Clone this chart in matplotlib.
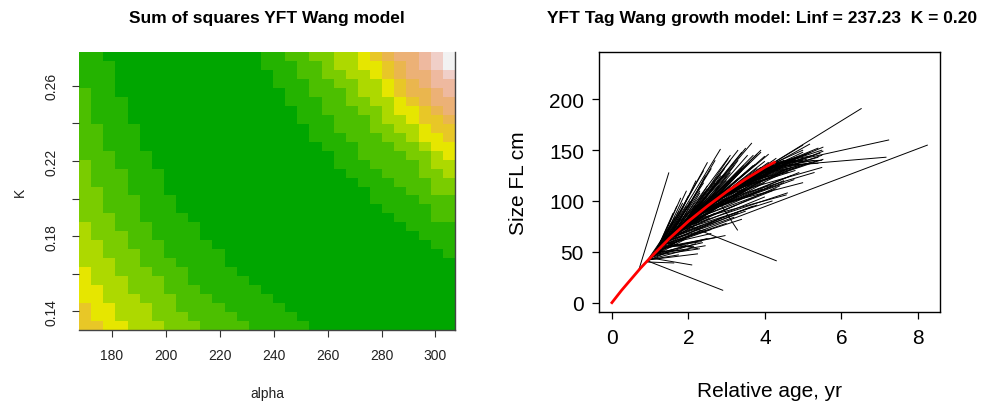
import numpy as np
import matplotlib
matplotlib.use("Agg")
import matplotlib.pyplot as plt
from matplotlib.colors import ListedColormap

plt.rcParams['font.family'] = ['Liberation Sans', 'DejaVu Sans']

# ---- sum of squares surface: alpha (cols) x K (rows) ----
alpha = np.arange(170, 305.1, 4.5)
k_vals = np.linspace(0.1325, 0.2755, 31)

# colour class (0-11, hex) of each cell, first string = highest K
ss_class = [
    "11" "0000000000000" "11223344567889ab",
    "111" "000000000000" "11122344556789ab",
    "111" "0000000000000" "11223344567889a",
    "111" "0000000000000" "111223344567899",
    "211" "00000000000000" "11222344567789",
    "2111" "0000000000000" "11122334456788",
    "2111" "00000000000000" "1122233455678",
    "2111" "00000000000000" "1112223445667",
    "22111" "00000000000000" "112223344566",
    "22111" "00000000000000" "111222334556",
    "22111" "000000000000000" "11122233455",
    "222111" "000000000000000" "1122223345",
    "322111" "000000000000000" "1112222344",
    "3222111" "000000000000000" "111222334",
    "3222111" "0000000000000000" "11122233",
    "3322111" "00000000000000000" "1112233",
    "33222111" "0000000000000000" "1111222",
    "33222111" "00000000000000000" "111122",
    "333221111" "00000000000000000" "11122",
    "4332221111" "00000000000000000" "1111",
    "4333221111" "000000000000000000" "111",
    "44332221111" "000000000000000000" "11",
    "443332211111" "000000000000000000" "1",
    "444332221111" "0000000000000000000",
    "5443332221111" "000000000000000000",
    "54443332211111" "00000000000000000",
    "554433322211111" "0000000000000000",
    "5544433322211111" "000000000000000",
    "65544433222211111" "00000000000000",
    "655444333222211111" "0000000000000",
    "6655444333222211111" "000000000000",
]
terrain12 = ["#00A600", "#24B300", "#4CBF00", "#7ACC00", "#ADD900", "#E6E600",
             "#E8C727", "#EAB64E", "#ECB176", "#EEB99F", "#F0CFC8", "#F2F2F2"]

# ---- tag data: release (age, length) -> recapture (age, length) ----
tags = [
    (0.71, 33, 1.49, 128), (0.93, 41, 2.91, 12), (0.90, 40, 1.63, 39),
    (0.95, 42, 2.05, 53), (0.95, 42, 2.25, 48), (1.00, 44, 2.10, 37),
    (1.00, 44, 1.70, 60), (1.00, 44, 1.45, 66), (1.05, 46, 1.80, 75),
    (1.05, 46, 2.00, 57), (1.10, 48, 1.55, 78), (1.10, 48, 2.38, 59),
    (1.10, 48, 1.95, 88), (1.15, 50, 1.70, 95), (1.15, 50, 2.30, 70),
    (1.20, 52, 1.80, 103), (1.20, 52, 2.97, 66), (1.20, 52, 2.10, 80),
    (1.25, 54, 1.95, 110), (1.25, 54, 2.60, 72), (1.30, 56, 8.26, 155),
    (1.30, 56, 2.84, 151), (1.30, 56, 2.20, 92), (1.35, 57, 2.40, 118),
    (1.35, 57, 3.00, 78), (1.40, 59, 2.60, 132), (1.40, 59, 2.20, 85),
    (1.40, 59, 3.30, 88), (1.45, 61, 2.50, 112), (1.45, 61, 2.90, 97),
    (1.50, 63, 2.70, 140), (1.50, 63, 2.40, 96), (1.50, 63, 3.50, 90),
    (1.55, 64, 3.00, 128), (1.55, 64, 2.80, 95), (1.60, 66, 3.66, 157),
    (1.60, 66, 2.50, 103), (1.60, 66, 3.80, 96), (1.65, 68, 3.20, 135),
    (1.65, 68, 3.10, 104), (1.70, 70, 3.40, 148), (1.70, 70, 2.60, 98),
    (1.70, 70, 4.20, 100), (1.75, 71, 3.00, 120), (1.75, 71, 3.60, 112),
    (1.80, 73, 3.90, 150), (1.80, 73, 2.90, 103), (1.80, 73, 4.60, 108),
    (1.85, 75, 3.30, 128), (1.90, 77, 4.31, 41), (1.90, 77, 3.70, 145),
    (1.90, 77, 3.50, 112), (1.95, 78, 2.90, 110), (2.00, 80, 3.80, 146),
    (2.00, 80, 4.57, 106), (2.00, 80, 3.20, 108), (2.05, 81, 3.40, 132),
    (2.10, 83, 4.10, 146), (2.10, 83, 3.60, 115), (2.15, 85, 3.00, 112),
    (2.20, 86, 4.77, 121), (2.20, 86, 3.70, 135), (2.25, 88, 3.30, 105),
    (2.30, 89, 4.00, 139), (2.30, 89, 3.90, 118), (2.35, 90, 3.10, 118),
    (2.40, 92, 4.20, 130), (2.40, 92, 3.50, 128), (2.45, 93, 5.00, 118),
    (2.50, 95, 4.30, 142), (2.50, 95, 3.90, 124), (2.55, 96, 3.40, 114),
    (2.60, 98, 5.30, 128), (2.60, 98, 4.10, 138), (2.65, 100, 3.80, 120),
    (2.70, 101, 4.40, 133), (2.75, 102, 3.29, 71), (2.80, 104, 5.50, 133),
    (2.80, 104, 4.00, 125), (2.85, 105, 4.60, 138), (2.90, 106, 3.70, 126),
    (2.95, 108, 4.80, 130), (3.00, 109, 5.53, 141), (3.00, 109, 4.20, 128),
    (3.05, 110, 4.50, 140), (3.10, 112, 4.90, 135), (3.15, 113, 4.10, 130),
    (3.20, 114, 5.53, 149), (3.25, 115, 4.70, 133), (3.30, 117, 5.00, 142),
    (3.35, 118, 4.40, 131), (3.40, 119, 5.53, 153), (3.45, 120, 5.10, 137),
    (3.50, 121, 4.80, 140), (3.55, 122, 5.18, 156), (3.60, 124, 5.40, 143),
    (3.65, 125, 4.60, 132), (3.70, 126, 5.20, 148), (3.75, 127, 4.95, 136),
    (3.80, 128, 5.45, 147), (3.85, 129, 4.90, 144), (3.90, 130, 5.30, 140),
    (3.95, 131, 5.50, 150), (4.00, 133, 7.18, 143), (4.05, 134, 5.10, 146),
    (4.10, 134, 7.25, 160), (4.15, 136, 5.00, 140), (4.20, 137, 6.53, 191),
    (4.20, 137, 5.50, 140), (4.25, 138, 5.00, 155), (1.05, 46, 2.30, 53),
    (1.15, 50, 2.00, 52), (1.25, 54, 2.70, 64), (1.35, 57, 3.40, 82),
    (1.45, 61, 3.20, 84), (1.55, 64, 3.70, 95), (1.65, 68, 4.00, 104),
    (1.75, 71, 4.40, 115), (1.85, 75, 4.20, 110), (1.95, 78, 4.50, 120),
    (2.05, 81, 4.30, 112), (2.15, 85, 4.70, 125), (2.25, 88, 4.50, 118),
    (2.35, 90, 4.90, 128), (1.20, 52, 2.40, 130), (1.30, 56, 2.50, 138),
    (1.40, 59, 3.10, 145), (1.50, 63, 3.30, 150), (1.60, 66, 2.90, 125),
    (1.70, 70, 3.10, 140), (1.80, 73, 3.50, 152), (1.90, 77, 2.80, 115),
    (2.00, 80, 3.00, 125), (2.20, 86, 3.90, 148), (2.40, 92, 3.60, 138),
    (2.60, 98, 4.00, 144), (1.10, 48, 1.60, 70), (1.00, 44, 1.90, 62),
    (0.95, 42, 1.40, 55), (1.20, 52, 1.60, 80),
    (0.90, 40, 1.30, 62), (0.92, 41, 1.60, 52), (0.95, 42, 1.75, 47),
    (0.98, 43, 1.55, 58), (1.00, 44, 2.20, 58), (1.02, 45, 1.50, 72),
    (1.05, 46, 1.65, 84), (1.08, 47, 2.45, 56), (1.10, 48, 1.80, 62),
    (1.12, 49, 2.15, 68), (1.15, 50, 1.60, 88), (1.18, 51, 1.90, 75),
    (1.20, 52, 2.50, 63), (1.22, 53, 2.05, 98), (1.25, 54, 1.75, 90),
    (1.28, 55, 2.30, 80), (1.30, 56, 1.85, 98), (1.32, 56, 2.90, 84),
    (1.35, 57, 2.00, 105), (1.38, 58, 2.45, 90), (1.40, 59, 1.95, 95),
    (1.42, 60, 2.75, 107), (1.45, 61, 2.20, 120), (1.48, 62, 3.05, 102),
    (1.50, 63, 2.05, 100), (1.52, 63, 2.55, 83), (1.55, 64, 2.30, 110),
    (1.58, 65, 3.35, 118), (1.60, 66, 2.20, 95), (1.62, 67, 3.90, 120),
    (1.65, 68, 2.45, 125), (1.68, 69, 2.70, 88), (1.70, 70, 2.30, 108),
    (1.72, 70, 3.75, 136), (1.75, 71, 2.55, 102), (1.78, 72, 2.95, 132),
    (1.80, 73, 3.25, 96), (1.82, 74, 2.50, 115), (1.85, 75, 3.05, 142),
    (1.88, 76, 4.00, 118), (1.90, 77, 2.60, 105), (1.92, 77, 3.45, 135),
    (1.95, 78, 3.80, 128), (1.98, 79, 2.70, 118), (2.00, 80, 4.10, 126),
    (2.05, 81, 2.85, 125), (2.10, 83, 3.30, 122), (2.12, 84, 3.95, 112),
    (2.15, 85, 3.55, 145), (2.18, 86, 2.95, 100), (2.20, 86, 4.20, 115),
    (2.25, 88, 3.10, 128), (2.28, 88, 4.40, 126), (2.30, 89, 3.30, 140),
    (2.35, 90, 4.60, 132), (2.38, 91, 3.65, 122), (2.42, 92, 3.20, 112),
    (2.45, 93, 4.30, 135), (2.50, 95, 3.50, 118), (2.55, 96, 4.75, 140),
    (2.60, 98, 3.40, 130), (2.65, 100, 4.50, 128), (2.70, 101, 3.60, 122),
    (2.75, 102, 4.85, 142), (2.80, 104, 3.90, 133), (2.90, 106, 5.20, 138),
    (3.00, 109, 3.80, 132), (3.10, 112, 5.40, 140), (3.20, 114, 4.30, 135),
    (3.30, 117, 5.50, 145), (3.40, 119, 4.60, 128), (3.50, 121, 5.00, 148),
    (3.60, 124, 4.50, 138), (3.70, 126, 5.40, 152), (3.80, 128, 4.70, 140),
    (3.90, 130, 5.10, 141), (4.00, 133, 5.00, 150), (4.10, 134, 5.40, 137),
    (4.20, 137, 5.30, 145), (1.25, 54, 2.35, 60), (1.35, 57, 2.60, 68),
    (1.45, 61, 2.45, 72), (1.30, 56, 2.15, 55), (1.40, 59, 2.25, 53),
    (1.50, 63, 2.35, 76),
]

# fitted growth curve
curve_age = [0, 0.25, 0.5, 0.75, 1.0, 1.5, 2.0, 2.5, 3.0, 3.5, 4.0, 4.25]
curve_len = [0, 12, 23, 34, 44, 63, 80, 95, 109, 121.5, 133, 138]

W, H = 982, 410
fig = plt.figure(figsize=(W / 100, H / 100), dpi=100)

# ---------------- left: sum of squares image ----------------
ax1 = fig.add_axes([79 / W, 1 - 331 / H, 376 / W, 278 / H])
z = np.array([[int(ch, 16) for ch in row] for row in ss_class[::-1]])
assert z.shape == (31, 31)
da = alpha[1] - alpha[0]
dk = k_vals[1] - k_vals[0]
a_edges = np.append(alpha - da / 2, alpha[-1] + da / 2)
k_edges = np.append(k_vals - dk / 2, k_vals[-1] + dk / 2)
ax1.pcolormesh(a_edges, k_edges, z, cmap=ListedColormap(terrain12),
               vmin=-0.5, vmax=11.5, shading='flat')
ax1.set_xlim(a_edges[0], a_edges[-1])
ax1.set_ylim(k_edges[0], k_edges[-1])
ax1.set_xticks([180, 200, 220, 240, 260, 280, 300])
ax1.set_yticks([0.14, 0.16, 0.18, 0.20, 0.22, 0.24, 0.26])
ax1.set_yticklabels(['0.14', '', '0.18', '', '0.22', '', '0.26'],
                    rotation=90, va='center')
ax1.tick_params(axis='both', direction='out', length=5, width=0.8,
                labelsize=10, color='#333333', labelcolor='#222222')
ax1.tick_params(axis='x', pad=8)
ax1.tick_params(axis='y', pad=10)
for side in ['left', 'top']:
    ax1.spines[side].set_visible(False)
for side in ['bottom', 'right']:
    ax1.spines[side].set_color('#444444')
    ax1.spines[side].set_linewidth(1.0)

fig.text(267 / W, 1 - 18 / H, 'Sum of squares YFT Wang model',
         ha='center', va='center', fontsize=12.5, fontweight='bold')
fig.text(267 / W, 1 - 394 / H, 'alpha', ha='center', va='center',
         fontsize=10, color='#222222')
fig.text(20 / W, 1 - 192 / H, 'K', ha='center', va='center',
         fontsize=10, rotation=90, color='#222222')

# ---------------- right: tag growth increments ----------------
ax2 = fig.add_axes([599.3 / W, 1 - 313.3 / H, 340.7 / W, 260.6 / H])
for a0, l0, a1, l1 in tags:
    ax2.plot([a0, a1], [l0, l1], color='black', lw=0.7, solid_capstyle='butt')
ax2.plot(curve_age, curve_len, color='red', lw=2)
ax2.set_xlim(-0.33, 8.58)
ax2.set_ylim(-9.5, 246.7)
ax2.set_xticks([0, 2, 4, 6, 8])
ax2.set_yticks([0, 50, 100, 150, 200])
ax2.tick_params(axis='both', direction='out', length=5, width=0.9,
                labelsize=15)
ax2.tick_params(axis='x', pad=6)
ax2.tick_params(axis='y', pad=6)
for sp in ax2.spines.values():
    sp.set_linewidth(1.0)

fig.text(547 / W, 1 - 18 / H,
         'YFT Tag Wang growth model: Linf = 237.23  K = 0.20',
         ha='left', va='center', fontsize=12.5, fontweight='bold')
fig.text(769.5 / W, 1 - 392 / H, 'Relative age, yr', ha='center',
         va='center', fontsize=15)
fig.text(518 / W, 1 - 183 / H, 'Size FL cm', ha='center', va='center',
         fontsize=15, rotation=90)

fig.savefig('out.png', dpi=100)
